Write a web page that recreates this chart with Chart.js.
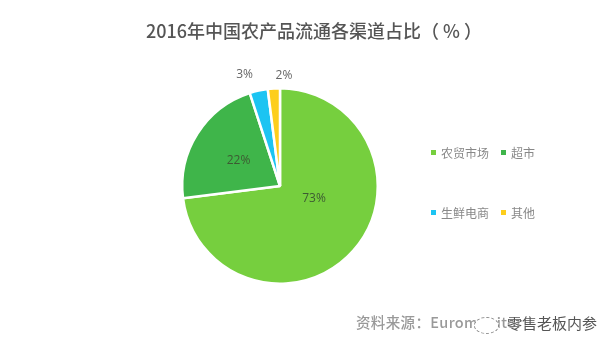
<!DOCTYPE html>
<html><head><meta charset="utf-8">
<script src="https://cdn.jsdelivr.net/npm/chart.js@4"></script>
<style>
html,body{margin:0;padding:0;background:#fff;width:615px;height:351px;overflow:hidden;font-family:"Noto Sans CJK SC",sans-serif}
#wrap{position:relative;width:615px;height:351px}
canvas{filter:blur(.35px);display:block}
.t{position:absolute;white-space:nowrap;filter:blur(.3px)}
.lg{font-size:12px;color:#888;line-height:14px}
.sw{position:absolute;width:5px;height:5px}
#title{left:146px;top:17px;font-size:18px;line-height:26px;color:#555;font-weight:500}
#src{left:356px;top:312px;font-size:14.5px;line-height:20px;color:#999;font-weight:500;letter-spacing:.35px}
#wm{left:507px;top:313px;font-size:15px;line-height:20px;color:#555;text-shadow:0 0 1px #fff}
#ring{position:absolute;left:474px;top:317px;width:23px;height:15px;border:1px dashed #888;border-radius:50%;background:#fff;filter:blur(.2px)}
</style></head><body>
<div id="wrap">
<canvas id="c" width="615" height="351"></canvas>
<div class="t" id="title"></div>
<div id="legend"></div>
<div class="t" id="src">资料来源：Euromonitor</div>
<div id="ring"></div>
<div class="t" id="wm">零售老板内参</div>
</div>
<script>
const categories=["农贸市场","超市","生鲜电商","其他"];
const values=[73,22,3,2];
const valueLabels=["73%","22%","3%","2%"];
const colors=["#76CF3E","#3FB54A","#1CC4F2","#FDCE1C"];
const titleText="2016年中国农产品流通各渠道占比（ % ）";
const legendSpots=[[431,150],[501,150],[431,210],[501,210]];
const labelNudge=[[1,-17],[8,6],[-11,-2],[11,1]];

document.getElementById('title').textContent=titleText;
const lg=document.getElementById('legend');
categories.forEach((c,i)=>{
  const [x,y]=legendSpots[i];
  const s=document.createElement('div');s.className='sw';
  s.style.cssText=`left:${x}px;top:${y}px;background:${colors[i]}`;
  lg.appendChild(s);
  const t=document.createElement('div');t.className='t lg';t.textContent=c;
  t.style.left=(x+10)+'px';t.style.top=(y-4.5)+'px';
  lg.appendChild(t);
});

const sliceLabels={id:'sliceLabels',afterDatasetsDraw(chart){
  const {ctx}=chart;
  const arcs=chart.getDatasetMeta(0).data;
  ctx.save();
  ctx.font='12px "Open Sans",sans-serif';
  ctx.textAlign='center';ctx.textBaseline='middle';
  arcs.forEach((a,i)=>{
    const p=a.getProps(['x','y','startAngle','endAngle','outerRadius']);
    const mid=(p.startAngle+p.endAngle)/2;
    const outside=values[i]<10;
    const r=outside?p.outerRadius+14:p.outerRadius*(i===0?0.45:0.6);
    ctx.fillStyle=outside?'#666':'#3d5a33';
    ctx.fillText(valueLabels[i],p.x+Math.cos(mid)*r+labelNudge[i][0],p.y+Math.sin(mid)*r+labelNudge[i][1]);
  });
  ctx.restore();
}};

new Chart(document.getElementById('c'),{
  type:'pie',
  data:{labels:categories,datasets:[{data:values,backgroundColor:colors,borderColor:'#fff',borderWidth:2.5}]},
  options:{
    responsive:false,animation:false,
    layout:{padding:{left:181,right:236,top:87,bottom:66}},
    plugins:{legend:{display:false},tooltip:{enabled:false},title:{display:false}}
  },
  plugins:[sliceLabels]
});
</script>
</body></html>
